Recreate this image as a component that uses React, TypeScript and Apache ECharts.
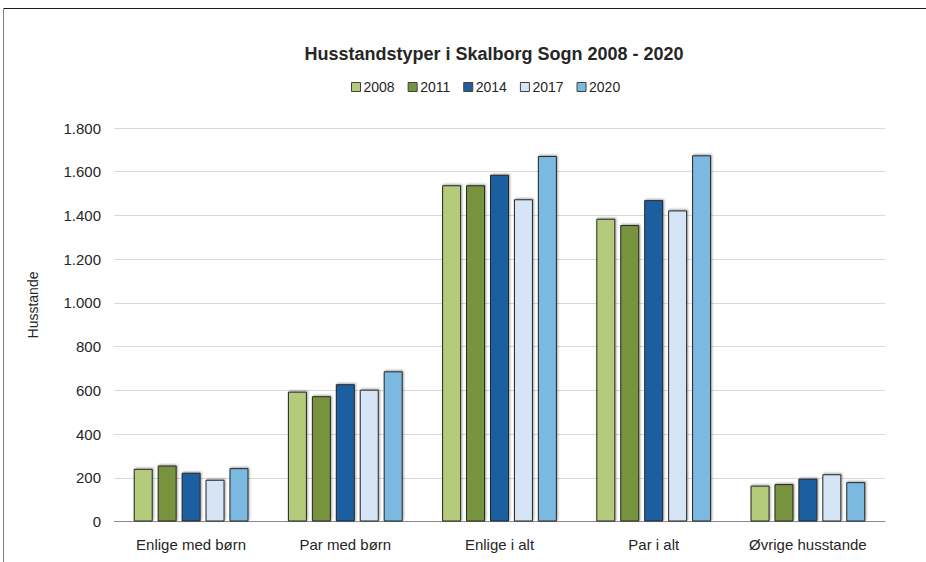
import React, { useEffect, useRef } from "react";
import * as echarts from "echarts";

const categories = ["Enlige med børn", "Par med børn", "Enlige i alt", "Par i alt", "Øvrige husstande"];
const years = ["2008", "2011", "2014", "2017", "2020"];
const v2008 = [241, 594, 1538, 1385, 164];
const v2011 = [256, 573, 1538, 1356, 171];
const v2014 = [223, 628, 1586, 1470, 196];
const v2017 = [191, 603, 1474, 1423, 216];
const v2020 = [244, 687, 1672, 1675, 180];
const seriesValues = [v2008, v2011, v2014, v2017, v2020];
const colors = ["#b3cb7a", "#77933c", "#1f5fa0", "#d5e5f6", "#7cb9e1"];
const yAxisName = "Husstande";

const fmt = (v: number) => String(v).replace(/\B(?=(\d{3})+(?!\d))/g, ".");

export default function App() {
  const ref = useRef<HTMLDivElement>(null);
  useEffect(() => {
    if (!ref.current) return;
    const chart = echarts.init(ref.current, null, { renderer: "svg" });
    const font = "Liberation Sans, Arial, sans-serif";
    chart.setOption({
      animation: false,
      backgroundColor: "#ffffff",
      textStyle: { fontFamily: font },
      title: {
        text: "Husstandstyper i Skalborg Sogn 2008 - 2020",
        left: 489,
        textAlign: "center",
        top: 40,
        textStyle: { fontFamily: font, fontSize: 18, fontWeight: "bold", color: "#262626" },
      },
      legend: {
        data: years,
        left: 351,
        top: 80,
        padding: 0,
        itemWidth: 9,
        itemHeight: 9,
        itemGap: 13,
        icon: "rect",
        textStyle: { fontFamily: font, fontSize: 14, color: "#262626", padding: [0, 0, 0, -2] },
        itemStyle: { borderColor: "#404040", borderWidth: 1 },
      },
      graphic: [
        { type: "line", shape: { x1: 3, y1: 8.5, x2: 926, y2: 8.5 }, style: { stroke: "#1a1a1a", lineWidth: 1 } },
        { type: "line", shape: { x1: 3.5, y1: 8, x2: 3.5, y2: 562 }, style: { stroke: "#808080", lineWidth: 1 } },
        {
          type: "text",
          x: 33,
          y: 305,
          rotation: Math.PI / 2,
          style: {
            text: yAxisName,
            fontFamily: font,
            fontSize: 14,
            fill: "#262626",
            align: "center",
            verticalAlign: "middle",
          },
        },
      ],
      grid: { left: 114, right: 41, top: 128, bottom: 40.5, containLabel: false },
      xAxis: {
        type: "category",
        data: categories,
        axisTick: { show: false },
        axisLine: { lineStyle: { color: "#8c8c8c", width: 1 } },
        axisLabel: { fontFamily: font, fontSize: 15, color: "#262626", margin: 15 },
      },
      yAxis: {
        type: "value",
        min: 0,
        max: 1800,
        interval: 200,
        axisLine: { show: false },
        axisTick: { show: false },
        splitLine: { lineStyle: { color: "#d9d9d9", width: 1 } },
        axisLabel: { fontFamily: font, fontSize: 15, color: "#262626", margin: 13, formatter: (v: number) => fmt(v) },
      },
      series: years.map((y, i) => ({
        name: y,
        type: "bar",
        data: seriesValues[i],
        barWidth: 19,
        barGap: "26%",
        itemStyle: {
          color: colors[i],
          borderColor: "#262626",
          borderWidth: 1,
          shadowColor: "rgba(0,0,0,0.35)",
          shadowBlur: 2,
          shadowOffsetX: 1,
          shadowOffsetY: -1,
        },
      })),
    });
    return () => chart.dispose();
  }, []);
  return <div ref={ref} style={{ position: "absolute", left: 0, top: 0, width: 926, height: 562 }} />;
}
